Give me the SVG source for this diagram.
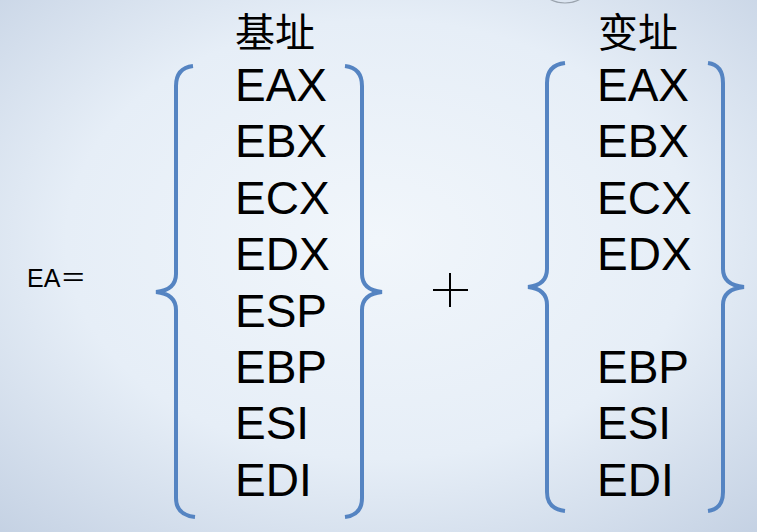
<svg xmlns="http://www.w3.org/2000/svg" width="757" height="532" viewBox="0 0 757 532">
<defs>
<radialGradient id="bg" cx="0.5" cy="0.45" r="0.75">
<stop offset="0" stop-color="#f1f6fb"/>
<stop offset="0.55" stop-color="#e6eef7"/>
<stop offset="1" stop-color="#c4d1e3"/>
</radialGradient>
<style>
.reg{font-family:"Liberation Sans",Arial,sans-serif;font-size:46px;fill:#000}
.cjk{font-family:"Noto Sans CJK SC","Noto Sans CJK JP",serif;font-size:40px;fill:#000}
.brace{fill:none;stroke:#5584c2;stroke-width:4;stroke-linecap:butt}
</style>
</defs>
<rect width="757" height="532" fill="url(#bg)"/>
<ellipse cx="565" cy="-14" rx="24" ry="17" fill="none" stroke="#9aa3ad" stroke-width="1.2"/>
<g id="label-ea"><text x="27" y="287" style="font-family:'Liberation Sans',Arial,sans-serif;font-size:25px">EA<tspan style="font-family:'Noto Sans CJK SC',sans-serif;font-size:26px">＝</tspan></text></g>
<g id="base-group">
<text class="cjk" x="235" y="47">基址</text>
<path class="brace" d="M193,66 Q176,68 176,86 L176,274 Q176,290 156,292 Q176,294 176,310 L176,498 Q176,515 195,517"/>
<path class="brace" d="M345,66 Q362,68 362,86 L362,274 Q362,290 382,292 Q362,294 362,310 L362,498 Q362,515 345,517"/>
<text class="reg" x="235" y="101">EAX</text>
<text class="reg" x="235" y="157">EBX</text>
<text class="reg" x="235" y="214">ECX</text>
<text class="reg" x="235" y="270">EDX</text>
<text class="reg" x="235" y="327">ESP</text>
<text class="reg" x="235" y="383">EBP</text>
<text class="reg" x="235" y="439">ESI</text>
<text class="reg" x="235" y="496">EDI</text>
</g>
<g id="plus"><path d="M433,290 H468 M450,273 V307" stroke="#000" stroke-width="2" fill="none"/></g>
<g id="index-group">
<text class="cjk" x="598" y="47">变址</text>
<path class="brace" d="M565,63 Q547,65 547,83 L547,269 Q547,285 528,287 Q547,289 547,305 L547,492 Q547,509 565,511"/>
<path class="brace" d="M708,63 Q723,65 723,83 L723,269 Q723,285 744,287 Q723,289 723,305 L723,492 Q723,509 708,511"/>
<text class="reg" x="597" y="101">EAX</text>
<text class="reg" x="597" y="157">EBX</text>
<text class="reg" x="597" y="214">ECX</text>
<text class="reg" x="597" y="270">EDX</text>
<text class="reg" x="597" y="383">EBP</text>
<text class="reg" x="597" y="439">ESI</text>
<text class="reg" x="597" y="496">EDI</text>
</g>
<g id="connectors"></g>
</svg>
